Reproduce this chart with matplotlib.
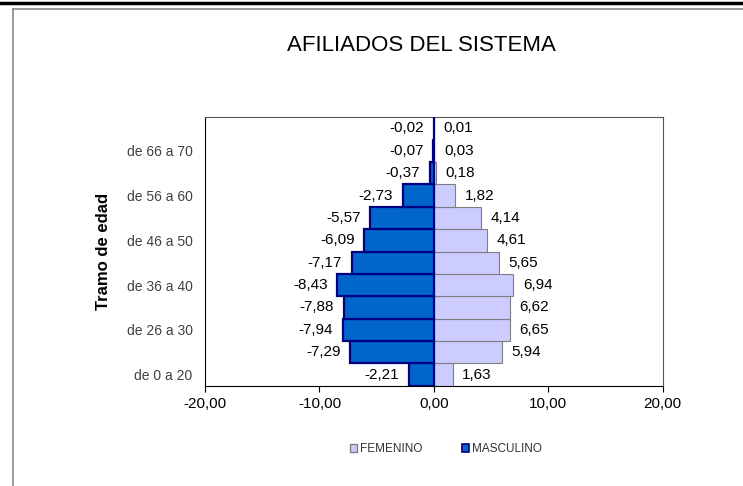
import numpy as np
import matplotlib.pyplot as plt
from matplotlib.patches import Patch
from matplotlib.lines import Line2D

plt.rcParams['font.family'] = ['Liberation Sans', 'DejaVu Sans']

tramos = ["de 0 a 20", "de 21 a 25", "de 26 a 30", "de 31 a 35", "de 36 a 40",
          "de 41 a 45", "de 46 a 50", "de 51 a 55", "de 56 a 60", "de 61 a 65",
          "de 66 a 70", "de 71 a 75"]
masculino = [-2.21, -7.29, -7.94, -7.88, -8.43, -7.17, -6.09, -5.57, -2.73, -0.37, -0.07, -0.02]
femenino = [1.63, 5.94, 6.65, 6.62, 6.94, 5.65, 4.61, 4.14, 1.82, 0.18, 0.03, 0.01]
xticks = [-20, -10, 0, 10, 20]

def coma(v):
    return f"{v:.2f}".replace(".", ",")

fig = plt.figure(figsize=(7.43, 4.86), dpi=100)
ax = fig.add_axes([0.276, 0.206, 0.616, 0.553])

y = np.arange(len(tramos))
ax.barh(y, femenino, height=1.0, color="#CCCCFF", edgecolor="#7F7F7F", linewidth=0.8, zorder=2)
ax.barh(y, masculino, height=1.0, color="#0066CC", edgecolor="#000080", linewidth=1.6, zorder=3)

for i in range(len(tramos)):
    ax.annotate(coma(masculino[i]), (masculino[i], y[i]), xytext=(-7, 0), textcoords="offset points",
                ha="right", va="center", fontsize=11, color="black")
    ax.annotate(coma(femenino[i]), (femenino[i], y[i]), xytext=(7, 0), textcoords="offset points",
                ha="left", va="center", fontsize=11, color="black")

ax.set_xlim(-20, 20)
ax.set_ylim(-0.5, len(tramos) - 0.5)
ax.set_xticks(xticks)
ax.set_xticklabels([coma(t) for t in xticks], fontsize=11)
ax.set_yticks(y[::2])
ax.set_yticklabels(tramos[::2], fontsize=10, color="#404040")
ax.tick_params(axis="y", length=0, pad=9)
ax.tick_params(axis="x", length=4, direction="out", pad=4)
for s in ["top", "right"]:
    ax.spines[s].set_color("#555555")
    ax.spines[s].set_linewidth(0.8)
ax.spines["left"].set_linewidth(0.8)
ax.spines["bottom"].set_linewidth(0.8)

ax.set_ylabel("Tramo de edad", fontsize=12, fontweight="bold")
ax.yaxis.set_label_coords(-0.205, 0.5)
fig.text(0.567, 0.907, "AFILIADOS DEL SISTEMA", ha="center", va="center", fontsize=16)

handles = [Patch(facecolor="#CCCCFF", edgecolor="#7F7F7F"),
           Patch(facecolor="#0066CC", edgecolor="#000080", linewidth=1.2)]
fig.legend(handles, ["FEMENINO", "MASCULINO"], loc="center", bbox_to_anchor=(0.60, 0.076),
           ncol=2, frameon=False, fontsize=8.5, handlelength=0.6, handleheight=0.6,
           handletextpad=0.25, columnspacing=3.4, labelcolor="#333333")

# marco de la hoja
fig.add_artist(Line2D([0, 1], [0.994, 0.994], color="black", linewidth=2.5))
fig.add_artist(Line2D([0.017, 1], [0.982, 0.982], color="#888888", linewidth=1.2))
fig.add_artist(Line2D([0.017, 0.017], [0, 0.982], color="#888888", linewidth=1.2))

fig.savefig("out.png", dpi=100)
